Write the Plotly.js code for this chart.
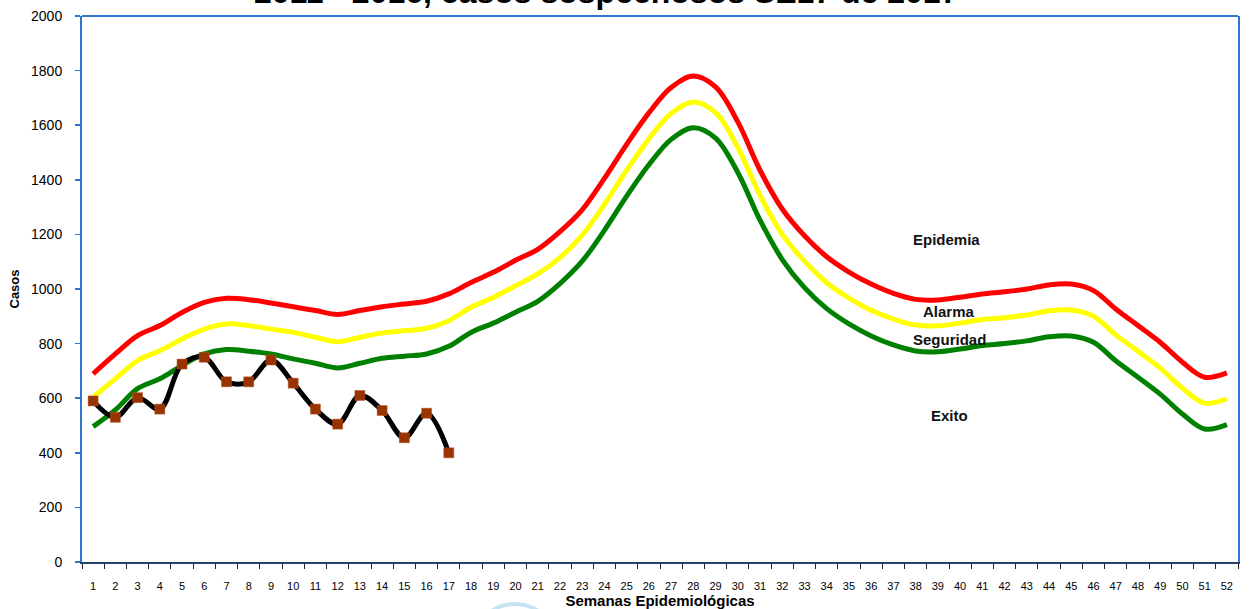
<!DOCTYPE html>
<html>
<head>
<meta charset="utf-8">
<script src="https://cdn.plot.ly/plotly-3.0.1.min.js"></script>
<style>html,body{margin:0;padding:0;background:#fff;}#chart{width:1250px;height:609px;}</style>
</head>
<body>
<div id="chart"></div>
<script>
const weeks = Array.from({length: 52}, (_, i) => String(i + 1));

const epidemia = [689, 762, 829, 866, 914, 951, 966, 961, 949, 935, 921, 907, 921, 935, 945, 955, 982, 1024, 1061, 1105,
  1145, 1210, 1290, 1405, 1530, 1645, 1738, 1780, 1740, 1612, 1435, 1293, 1195, 1118, 1062, 1018, 984, 962, 960, 970,
  982, 990, 1000, 1015, 1018, 994, 927, 866, 805, 732, 677, 693];

const alarma = [604, 671, 738, 774, 817, 853, 872, 866, 853, 841, 823, 807, 823, 839, 847, 856, 884, 933, 969, 1012,
  1055, 1115, 1197, 1310, 1435, 1550, 1643, 1685, 1646, 1518, 1343, 1200, 1102, 1023, 967, 922, 890, 868, 865, 875,
  888, 895, 905, 920, 923, 900, 832, 772, 710, 637, 582, 598];

const seguridad = [496, 557, 635, 671, 720, 762, 778, 772, 762, 744, 728, 711, 728, 746, 754, 762, 790, 841, 875, 915,
  955, 1020, 1102, 1215, 1340, 1455, 1548, 1591, 1553, 1427, 1252, 1108, 1005, 928, 872, 828, 795, 773, 770, 780,
  793, 800, 810, 825, 828, 805, 737, 677, 615, 542, 487, 503];

const casosWeeks = weeks.slice(0, 17);
const casos2017 = [590, 530, 602, 560, 725, 750, 660, 660, 740, 655, 560, 505, 610, 555, 455, 545, 400];

const zoneLabels = ['Epidemia', 'Alarma', 'Seguridad', 'Exito'];
const zoneLabelValues = [1183, 917, 814, 536];

const titleText = '2011 - 2016, casos sospechosos SE17 de 2017';

const lineTrace = (y, color, name) => ({
  type: 'scatter', mode: 'lines', x: weeks, y: y, name: name,
  line: {color: color, width: 5, shape: 'spline', smoothing: 1},
  hoverinfo: 'x+y'
});

const traces = [
  lineTrace(seguridad, '#008000', 'Seguridad'),
  lineTrace(alarma, '#FFFF00', 'Alarma'),
  lineTrace(epidemia, '#FF0000', 'Epidemia'),
  {
    type: 'scatter', mode: 'lines+markers', x: casosWeeks, y: casos2017, name: '2017',
    line: {color: '#000000', width: 5, shape: 'spline', smoothing: 1},
    marker: {symbol: 'square', size: 10, color: '#993300', line: {color: '#b5562a', width: 0.5}}
  }
];

// label x positions (category index along the x axis)
const labelPos = [38.4, 38.5, 38.5, 38.5];
const annotations = zoneLabels.map((t, i) => ({
  text: '<b>' + t + '</b>', x: labelPos[i], y: zoneLabelValues[i], xref: 'x', yref: 'y',
  showarrow: false, xanchor: 'center', yanchor: 'middle',
  font: {family: 'Liberation Sans, Arial, sans-serif', size: 15, color: '#111'}
}));
annotations.push({
  text: '<b>' + titleText + '</b>', xref: 'paper', yref: 'paper', x: 0.453, y: 1.0,
  xanchor: 'center', yanchor: 'bottom', yshift: 4, showarrow: false,
  font: {family: 'Liberation Sans, Arial, sans-serif', size: 32, color: '#000'}
});

const layout = {
  width: 1250, height: 609,
  margin: {l: 82, r: 12, t: 16, b: 47},
  paper_bgcolor: '#ffffff', plot_bgcolor: '#ffffff',
  showlegend: false,
  font: {family: 'Liberation Sans, Arial, sans-serif', color: '#000'},
  xaxis: {
    type: 'category', categoryorder: 'array', categoryarray: weeks,
    range: [-0.5, 51.5],
    tickson: 'boundaries', ticks: 'outside', ticklen: 5, tickcolor: '#222', tickwidth: 1,
    showline: true, linecolor: '#24406b', linewidth: 1.5,
    showgrid: false, zeroline: false,
    tickfont: {family: 'Liberation Sans Narrow, Arial Narrow, Liberation Sans, sans-serif', size: 11, color: '#000'},
    ticklabelstandoff: 13,
    title: {text: '<b>Semanas Epidemiológicas</b>', font: {family: 'Liberation Sans, Arial, sans-serif', size: 15, color: '#000'}, standoff: 6}
  },
  yaxis: {
    range: [0, 2000], dtick: 200, tick0: 0,
    ticks: 'outside', ticklen: 5, tickcolor: '#2f75d0', tickwidth: 1.5,
    showline: true, linecolor: '#2f75d0', linewidth: 2, mirror: true,
    showgrid: false, zeroline: false,
    tickfont: {family: 'Liberation Sans, Arial, sans-serif', size: 14, color: '#000'},
    ticklabelstandoff: 10,
    title: {text: '<b>Casos</b>', font: {family: 'Liberation Sans, Arial, sans-serif', size: 13, color: '#000'}, standoff: 8}
  },
  shapes: [
    {type: 'line', xref: 'paper', yref: 'paper', x0: 0, x1: 1, y0: 1, y1: 1, line: {color: '#2f75d0', width: 2}},
    {type: 'circle', xref: 'paper', yref: 'paper', x0: 0.3356, x1: 0.4135, y0: -0.0769, y1: -0.2527, line: {color: '#c6e3f4', width: 4}, layer: 'below'}
  ],
  annotations: annotations
};

Plotly.newPlot('chart', traces, layout, {displayModeBar: false, staticPlot: true});
</script>
</body>
</html>
